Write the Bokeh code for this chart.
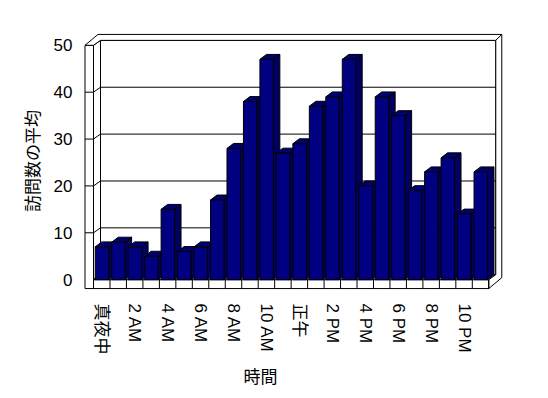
from bokeh.plotting import figure
from bokeh.models import FixedTicker, Range1d, Title
from bokeh.embed import file_html
from bokeh.resources import INLINE

# ---- data ----
hours = list(range(24))
visits = [7, 8, 7, 5, 15, 6, 7, 17, 28, 38, 47, 27,
          29, 37, 39, 47, 20, 39, 35, 19, 23, 26, 14, 23]
tick_hours = [0, 2, 4, 6, 8, 10, 12, 14, 16, 18, 20, 22]
tick_labels = ["真夜中", "2 AM", "4 AM", "6 AM", "8 AM", "10 AM",
               "正午", "2 PM", "4 PM", "6 PM", "8 PM", "10 PM"]
y_ticks = [0, 10, 20, 30, 40, 50]
y_title = "訪問数の平均"
x_title = "時間"

FONT = "Noto Sans CJK JP"
TICK_FONT = "Liberation Sans, Noto Sans CJK JP"

# ---- layout (pixel geometry) ----
PXX = 16.47   # px per category
PXY = 4.74    # px per value unit
ymax = y_ticks[-1]
left = hours[0] - 0.5
right = hours[-1] + 0.5
Dx, Dy = 7 / PXX, 5 / PXY        # wall/floor depth
Tx, Ty = 6 / PXX, 6 / PXY        # back wall thickness
Wl = 8.5 / PXX                   # left wall thickness
Fl = 9 / PXY                     # floor thickness
Bx, By = 6.5 / PXX, 5 / PXY      # bar depth
b0, b1 = -0.395, 0.42            # bar front extent around the category

x_start = (80 - 93) / PXX - 0.5
x_end = (506 - 93) / PXX - 0.5
y_start = (282 - 296) / PXY
y_end = (282 - 28) / PXY

p = figure(width=540, height=390, output_backend="svg", toolbar_location=None,
           x_range=Range1d(x_start, x_end), y_range=Range1d(y_start, y_end),
           min_border_left=80, min_border_right=34, min_border_top=28,
           min_border_bottom=94)
p.outline_line_color = None
p.grid.visible = False
p.background_fill_color = "white"
p.border_fill_color = "white"

# ---- walls and floor ----
face_xs = [
    [left - Wl, left - Wl, left, left, right, right],
    [left, left, left + Dx, left + Dx],
    [left, right, right + Dx, left + Dx],
    [left + Dx, right + Dx, right + Dx, left + Dx],
    [left - Wl, left, left + Dx, right + Dx, right + Dx + Tx, left - Wl + Dx + Tx],
    [right, right, right + Dx, right + Dx, right + Dx + Tx, right + Dx + Tx],
]
face_ys = [
    [-Fl, ymax, ymax, 0, 0, -Fl],
    [0, ymax, ymax + Dy, Dy],
    [0, 0, Dy, Dy],
    [Dy, Dy, ymax + Dy, ymax + Dy],
    [ymax, ymax, ymax + Dy, ymax + Dy, ymax + Dy + Ty, ymax + Dy + Ty],
    [-Fl, 0, Dy, ymax + Dy, ymax + Dy + Ty, -Fl + Dy + Ty],
]
p.patches(face_xs, face_ys, fill_color="white", line_color="black", line_width=1)

grid_xs, grid_ys = [], []
for v in y_ticks[1:-1]:
    grid_xs.append([left - Wl, left, left + Dx, right + Dx])
    grid_ys.append([v, v, v + Dy, v + Dy])
for e in range(len(hours) + 1):
    grid_xs.append([left + e, left + e])
    grid_ys.append([0, -Fl])
p.multi_line(grid_xs, grid_ys, line_color="black", line_width=1)

# ---- bars ----
side_xs, side_ys, top_xs, top_ys, fr_xs, fr_ys = [], [], [], [], [], []
for h, v in zip(hours, visits):
    x0, x1 = h + b0, h + b1
    side_xs.append([x1, x1, x1 + Bx, x1 + Bx])
    side_ys.append([0, v, v + By, By])
    top_xs.append([x0, x1, x1 + Bx, x0 + Bx])
    top_ys.append([v, v, v + By, v + By])
    fr_xs.append([x0, x1, x1, x0])
    fr_ys.append([0, 0, v, v])
p.patches(side_xs, side_ys, fill_color="#000060", line_color="black", line_width=1)
p.patches(top_xs, top_ys, fill_color="#000070", line_color="black", line_width=1)
p.patches(fr_xs, fr_ys, fill_color="#000080", line_color="black", line_width=1)

# ---- axes ----
for ax in (p.xaxis[0], p.yaxis[0]):
    ax.axis_line_color = None
    ax.major_tick_line_color = None
    ax.minor_tick_line_color = None
    ax.major_tick_in = 0
    ax.major_tick_out = 0
    ax.major_label_text_font = TICK_FONT
    ax.major_label_text_font_size = "17px"
    ax.major_label_text_color = "black"
    ax.axis_label_text_font = FONT
    ax.axis_label_text_font_size = "17px"
    ax.axis_label_text_font_style = "normal"
    ax.axis_label_text_color = "black"

p.yaxis.ticker = FixedTicker(ticks=y_ticks)
p.yaxis.major_label_standoff = 8
p.yaxis.axis_label = y_title
p.yaxis.axis_label_standoff = 7

p.xaxis.ticker = FixedTicker(ticks=tick_hours)
p.xaxis.major_label_overrides = {h: t for h, t in zip(tick_hours, tick_labels)}
p.xaxis.major_label_orientation = "vertical"
p.xaxis.major_label_standoff = 10

p.add_layout(Title(text=x_title, align="left", offset=163, standoff=6,
                   text_font=FONT, text_font_size="17px", text_font_style="normal",
                   text_color="black"), "below")

open("out.html", "w").write(file_html(p, INLINE))
